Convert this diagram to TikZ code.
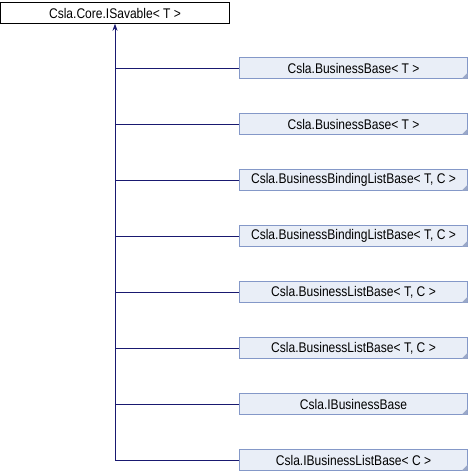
\documentclass[tikz,border=0pt]{standalone}
\usepackage{fontspec}
\setmainfont{Liberation Sans}
\newfontfamily\labelfont[FakeStretch=0.86]{Liberation Sans}
\usetikzlibrary{arrows.meta}
\definecolor{edgeblue}{HTML}{191970}
\definecolor{boxborder}{HTML}{8498C8}
\definecolor{boxfill}{HTML}{E9EEF7}
\definecolor{foldgray}{HTML}{9AA8C8}
\begin{document}
\begin{tikzpicture}[x=1pt,y=-1pt,
  basebox/.style={draw=black,fill=white,minimum width=229pt,minimum height=21pt,inner sep=0pt,font=\labelfont\fontsize{14}{15}\selectfont,anchor=center},
  derivbox/.style={draw=boxborder,fill=boxfill,minimum width=228pt,minimum height=21pt,inner sep=0pt,font=\labelfont\fontsize{14}{15}\selectfont,anchor=center},
  conn/.style={draw=edgeblue,line width=0.8pt}]
\useasboundingbox (0,0) rectangle (468,472);
\node[basebox] (base) at (115,13) {Csla.Core.ISavable< T >};
\foreach \i/\t [count=\k] in {
  0/{Csla.BusinessBase< T >},
  1/{Csla.BusinessBase< T >},
  2/{Csla.BusinessBindingListBase< T, C >},
  3/{Csla.BusinessBindingListBase< T, C >},
  4/{Csla.BusinessListBase< T, C >},
  5/{Csla.BusinessListBase< T, C >},
  6/{Csla.IBusinessBase},
  7/{Csla.IBusinessListBase< C >}} {
  \node[derivbox] (d\k) at (353.5,{68+56*\i}) {\t};
  \fill[foldgray] (d\k.south east) -- ++(0,-6) -- ++(-6,6) -- cycle;
}
\coordinate (trunk) at (115,460);
\draw[conn] (trunk) -- (d8.west);
\draw[conn,-{Stealth[length=7pt,width=5pt]}] (trunk) -- (base.south);
\foreach \k in {1,...,7} {
  \draw[conn] (base.south |- d\k.west) -- (d\k.west);
}
\end{tikzpicture}
\end{document}
